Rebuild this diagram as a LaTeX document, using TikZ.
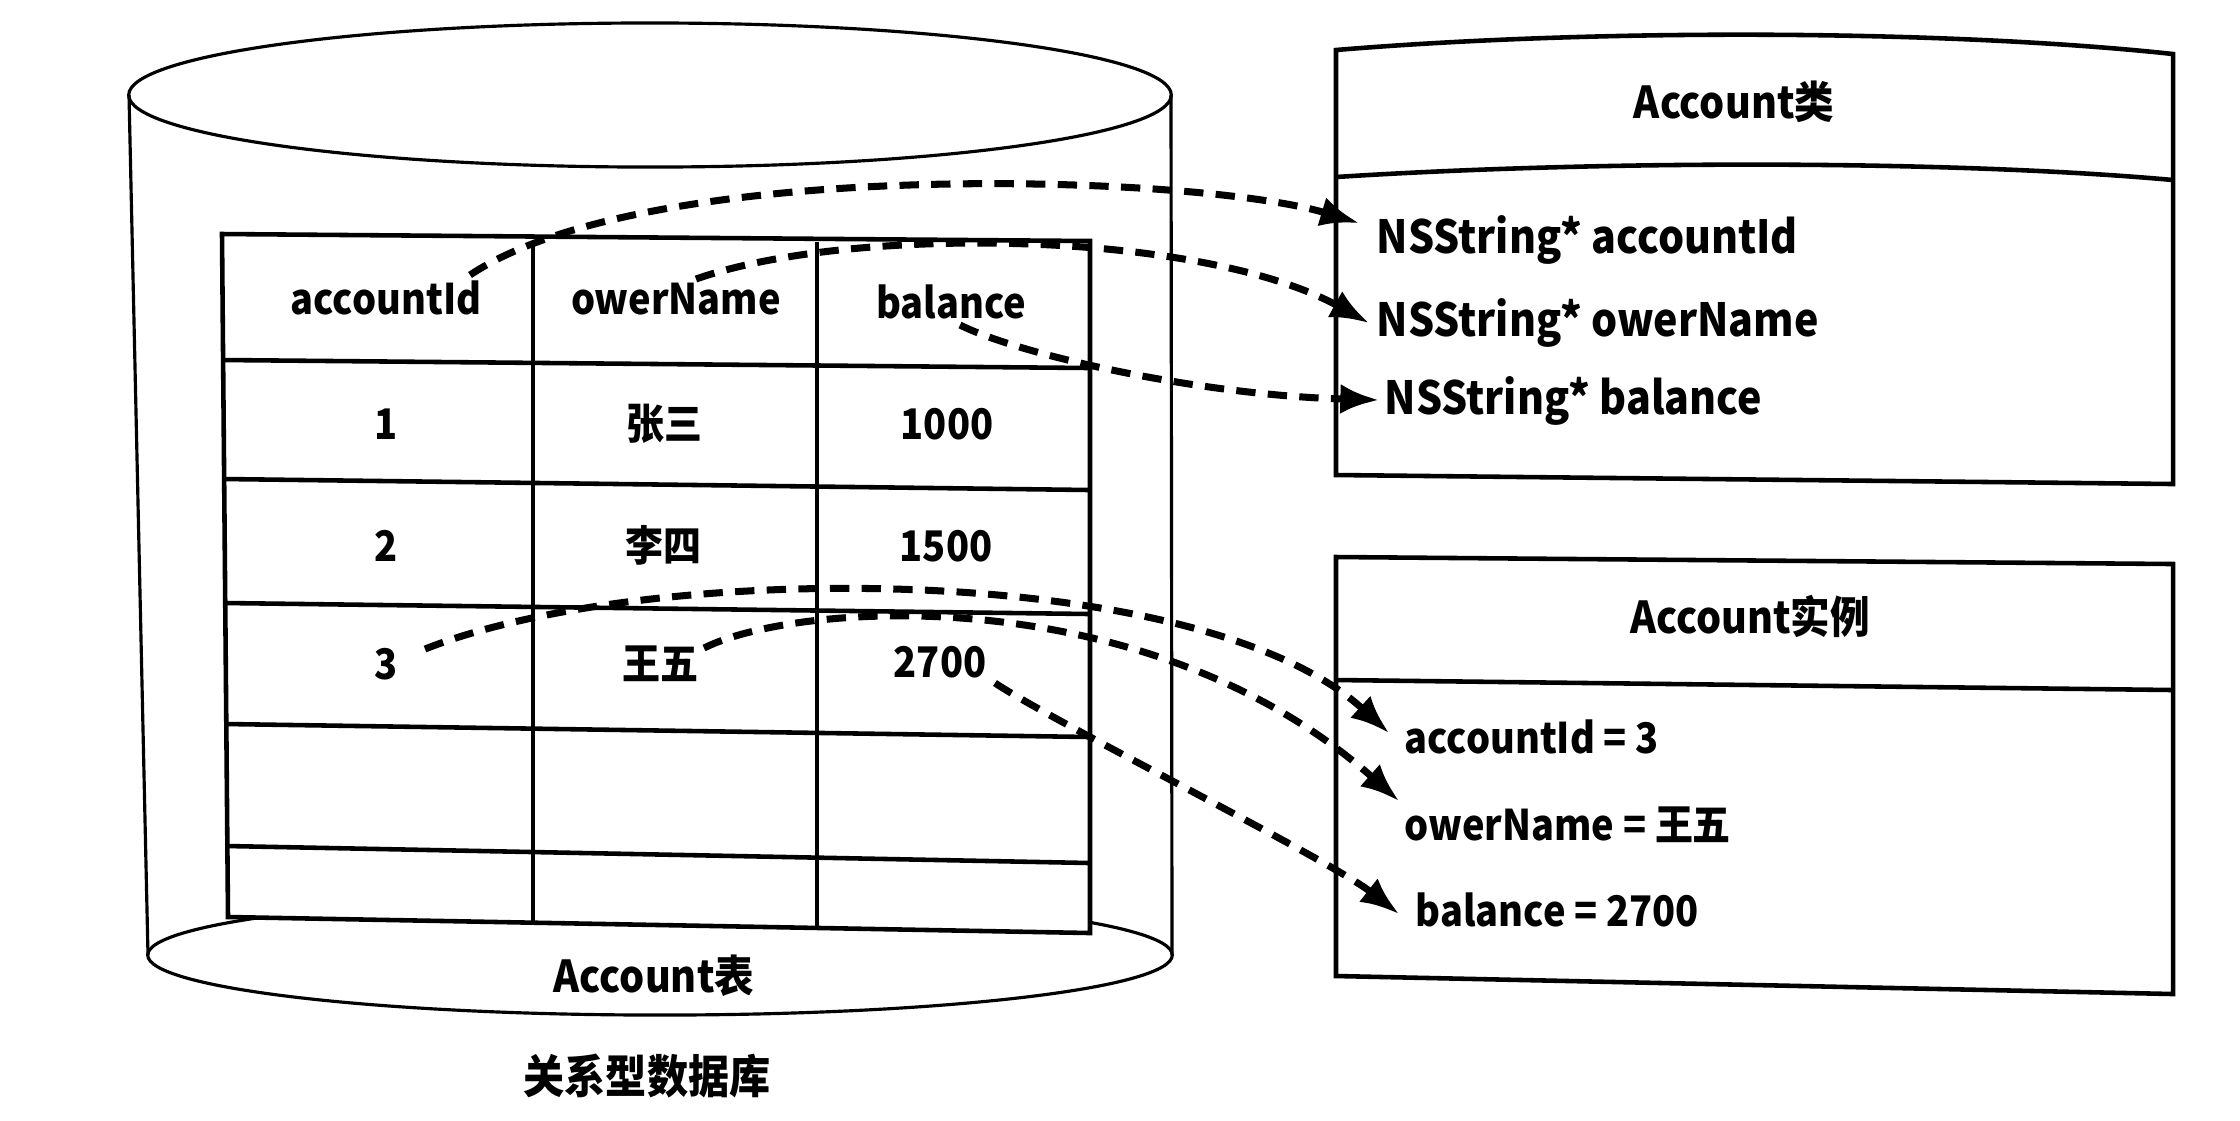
\documentclass[tikz,border=0pt]{standalone}
\usepackage{fontspec}
\setmainfont{Noto Sans CJK SC}[FakeStretch=0.9]
\usetikzlibrary{arrows.meta}

\tikzset{
  cell/.style={anchor=base, inner sep=0pt, font=\fontsize{12}{14}\selectfont\bfseries},
  attr/.style={anchor=base west, inner sep=0pt, font=\fontsize{13}{15}\selectfont\bfseries},
  inst/.style={attr, font=\fontsize{12}{14}\selectfont\bfseries},
  title/.style={anchor=base, inner sep=0pt, font=\fontsize{12.5}{15}\selectfont\bfseries},
  link/.style={line width=2pt, dash pattern=on 5.5pt off 3.5pt, -{Latex[length=11pt,width=8.5pt]}},
  wall/.style={line width=0.9pt},
  tabline/.style={line width=1.3pt},
}

\begin{document}
\begin{tikzpicture}[x=0.01cm, y=-0.01cm]
	\useasboundingbox (0,0) rectangle (2240,1120);
	
	%%%%% database %%%%%
	\draw[wall] (650,95) ellipse (5.21cm and 0.72cm);
	\draw[wall] (129,95) -- (148,955);
	\draw[wall] (1171,95) -- (1172,955);
	\draw[wall] (660,955) ellipse (5.12cm and 0.6cm);
	
	\fill[white] (222,234) -- (1090,241) -- (1090,933) -- (228,917) -- cycle;
	\draw[tabline] (222,234) -- (1090,241) -- (1090,933) -- (228,917) -- cycle;
	\draw[tabline] (223,360) -- (1090,368);
	\draw[tabline] (224,479) -- (1090,490);
	\draw[tabline] (225,603) -- (1090,614);
	\draw[tabline] (226,724) -- (1090,737);
	\draw[tabline] (227,846) -- (1090,863);
	\draw[wall] (533,244) -- (533,925);
	\draw[wall] (817,242) -- (817,929);
	
	\node[cell] (hId) at (386,314) {accountId};
	\node[cell] (hOwner) at (676,314) {owerName};
	\node[cell] (hBal) at (951,318) {balance};
	
	\node[cell] (r1Id) at (386,439) {1};
	\node[cell] (r1Name) at (664,439) {张三};
	\node[cell] (r1Bal) at (947,439) {1000};
	
	\node[cell] (r2Id) at (386,561) {2};
	\node[cell] (r2Name) at (663,561) {李四};
	\node[cell] (r2Bal) at (946,561) {1500};
	
	\node[cell] (r3Id) at (386,679) {3};
	\node[cell] (r3Name) at (660,679) {王五};
	\node[cell] (r3Bal) at (940,677) {2700};
	
	\node[title] (tabName) at (654,992) {Account表};
	\node[title, font=\fontsize{13}{15}\selectfont\bfseries] (dbName) at (647,1093) {关系型数据库};
	
	%%%%% class %%%%%
	\draw[tabline] (1336,50) .. controls (1600,28) and (1950,30) .. (2173,54) -- (2173,484) -- (1336,475) -- cycle;
	\draw[tabline] (1336,177) .. controls (1600,160) and (1950,160) .. (2173,180);
	
	\node[title] (clsName) at (1734,118) {Account类};
	\node[attr] (cId) at (1376,253) {NSString* accountId};
	\node[attr] (cOwner) at (1376,336) {NSString* owerName};
	\node[attr] (cBal) at (1384,414) {NSString* balance};
	
	%%%%% instance %%%%%
	\draw[tabline] (1336,557) -- (2173,564) -- (2173,994) -- (1336,976) -- cycle;
	\draw[tabline] (1336,680) -- (2173,690);
	
	\node[title] (objName) at (1750,633) {Account实例};
	\node[inst] (oId) at (1404,753) {accountId = 3};
	\node[inst] (oOwner) at (1404,840) {owerName = 王五};
	\node[inst] (oBal) at (1415,926) {balance = 2700};
	
	%%%%% mapping %%%%%
	\draw[link] ([shift={(84,-39)}]hId.base) .. controls (650,155) and (1200,175) .. ([shift={(-17,-30)}]cId.base west);
	\draw[link] ([shift={(20,-35)}]hOwner.base) .. controls (850,225) and (1200,230) .. ([shift={(-7,-13)}]cOwner.base west);
	\draw[link] ([shift={(9,7)}]hBal.base) .. controls (1020,355) and (1200,395) .. ([shift={(-5,-14)}]cBal.base west);
	
	\draw[link] ([shift={(39,-30)}]r3Id.base) .. controls (650,560) and (1200,560) .. ([shift={(-15,-20)}]oId.base west);
	\draw[link] ([shift={(44,-31)}]r3Name.base) .. controls (800,600) and (1150,580) .. ([shift={(-5,-39)}]oOwner.base west);
	\draw[link] ([shift={(55,6)}]r3Bal.base) .. controls (1050,720) and (1330,860) .. ([shift={(-16,-12)}]oBal.base west);
	
\end{tikzpicture}
\end{document}
